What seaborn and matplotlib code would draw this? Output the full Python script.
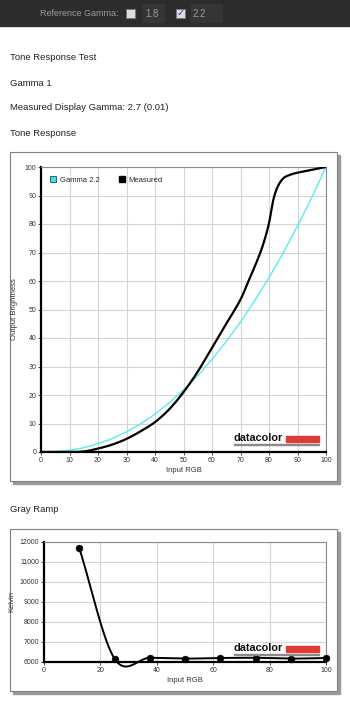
import numpy as np
import matplotlib
matplotlib.use("Agg")
import matplotlib.pyplot as plt
from matplotlib.patches import Rectangle
from matplotlib.lines import Line2D
import seaborn as sns

# --- data ---
tone_x = [0, 5, 10, 15, 20, 25, 30, 35, 40, 45, 50, 55, 60, 65, 70, 75, 80, 85, 90, 95, 100]
gamma22_y = [0, 0.14, 0.63, 1.5, 2.9, 4.7, 7.1, 9.9, 13.3, 17.3, 21.8, 26.8, 32.5, 38.8,
             45.6, 53.1, 61.2, 69.9, 79.3, 89.3, 100]
meas_x = [0, 5, 10, 15, 20, 25, 30, 35, 40, 45, 50, 55, 60, 65, 70, 73.5, 76, 78,
          80, 81.5, 83, 85, 87.5, 90, 95, 100]
meas_y = [0, 0, 0, 0.2, 1.2, 2.6, 4.6, 7.3, 10.5, 15, 21, 28.2, 36.6, 45, 53.5, 61.6, 67.5,
          73, 80.3, 88.4, 93, 96, 97.3, 98, 99, 100]

ramp_x = [12.5, 25, 37.5, 50, 62.5, 75, 87.5, 100]
ramp_kelvin = [11700, 6170, 6210, 6170, 6200, 6210, 6170, 6200]

W, H = 350, 703


def fx(x):
    return x / W


def fy(y):
    return 1 - y / H


def catmull(xs, ys, n=30):
    # smooth path through the measured points (drawing only)
    xs, ys = np.asarray(xs, float), np.asarray(ys, float)
    m = np.zeros_like(ys)
    m[1:-1] = (ys[2:] - ys[:-2]) / (xs[2:] - xs[:-2])
    m[0] = (ys[1] - ys[0]) / (xs[1] - xs[0])
    m[-1] = (ys[-1] - ys[-2]) / (xs[-1] - xs[-2])
    px, py = [], []
    for i in range(len(xs) - 1):
        h = xs[i + 1] - xs[i]
        t = np.linspace(0, 1, n)
        h00 = 2 * t**3 - 3 * t**2 + 1
        h10 = t**3 - 2 * t**2 + t
        h01 = -2 * t**3 + 3 * t**2
        h11 = t**3 - t**2
        px.extend(xs[i] + t * h)
        py.extend(h00 * ys[i] + h10 * h * m[i] + h01 * ys[i + 1] + h11 * h * m[i + 1])
    return np.array(px), np.array(py)


sns.set_theme(style="white")
plt.rcParams["font.family"] = ["Liberation Sans", "DejaVu Sans"]

fig = plt.figure(figsize=(3.5, 7.03), dpi=100, facecolor="white")

# top toolbar
fig.patches.append(Rectangle((0, fy(26)), 1, 26 / H, transform=fig.transFigure,
                             color="#2c2c2c", zorder=-5))
fig.patches.append(Rectangle((fx(142), fy(22)), 22 / W, 18 / H, transform=fig.transFigure,
                             color="#353535", zorder=-4))
fig.patches.append(Rectangle((fx(191), fy(22)), 31 / W, 18 / H, transform=fig.transFigure,
                             color="#353535", zorder=-4))
fig.text(fx(40), fy(13), "Reference Gamma:", fontsize=6.5, color="#9a9a9a", va="center")
for cx in (126, 176):
    fig.patches.append(Rectangle((fx(cx), fy(18)), 9 / W, 9 / H, transform=fig.transFigure,
                                 facecolor="#dcdcdc", edgecolor="#777777", lw=0.6, zorder=-3))
fig.text(fx(177), fy(13), "\u2713", fontsize=7, color="#2a3fb8", va="center",
         family="DejaVu Sans", weight="bold")
fig.text(fx(145), fy(14), "1.8", fontsize=7, color="#9a9a9a", va="center")
fig.text(fx(193), fy(14), "2.2", fontsize=7, color="#9a9a9a", va="center")

# section texts
for y, s in [(57, "Tone Response Test"), (83, "Gamma 1"),
             (108, "Measured Display Gamma: 2.7 (0.01)"), (133, "Tone Response"),
             (509, "Gray Ramp")]:
    fig.text(fx(10), fy(y), s, fontsize=6.8, color="#222222", va="center")

# chart frames with shadow
for top, bot in [(152, 481), (529, 691)]:
    fig.patches.append(Rectangle((fx(13), fy(bot + 3)), 327 / W, (bot - top) / H,
                                 transform=fig.transFigure, color="#9a9a9a", zorder=-2))
    fig.patches.append(Rectangle((fx(10), fy(bot)), 327 / W, (bot - top) / H,
                                 transform=fig.transFigure, facecolor="white",
                                 edgecolor="#808080", lw=0.8, zorder=-1))


def style_axes(ax):
    ax.set_facecolor("white")
    ax.set_zorder(1)
    ax.grid(True, color="#d4d4d4", lw=0.8)
    for s in ("top", "right"):
        ax.spines[s].set_color("#8a8a8a")
        ax.spines[s].set_linewidth(0.8)
    for s in ("left", "bottom"):
        ax.spines[s].set_color("black")
        ax.spines[s].set_linewidth(1.6)
    ax.tick_params(axis="both", which="both", labelsize=5, colors="#333333",
                   length=2, width=0.6, direction="out", pad=1.5,
                   left=True, bottom=True)


def logo(ytop):
    fig.text(fx(234), fy(ytop + 5), "datacolor", fontsize=7.8, weight="bold",
             color="#111111", va="center", family="Liberation Sans", zorder=6)
    fig.patches.append(Rectangle((fx(286), fy(ytop + 9)), 33 / W, 6 / H,
                                 transform=fig.transFigure, color="#e23b36", zorder=5))
    fig.patches.append(Rectangle((fx(234), fy(ytop + 12)), 85 / W, 1.5 / H,
                                 transform=fig.transFigure, color="#8a8a8a", zorder=5))


# --- tone response ---
ax1 = fig.add_axes([fx(41), fy(452), 285 / W, 285 / H])
style_axes(ax1)
sns.lineplot(x=tone_x, y=gamma22_y, ax=ax1, color="#55eef0", lw=1.0, zorder=3)
mx, my = catmull(meas_x, meas_y)
sns.lineplot(x=mx, y=my, ax=ax1, color="black", lw=1.6, sort=False, zorder=4)
ax1.set_xlim(0, 100)
ax1.set_ylim(0, 100)
ax1.set_xticks(range(0, 101, 10))
ax1.set_yticks(range(0, 101, 10))
ax1.set_xlabel("Input RGB", fontsize=5.5, color="#333333", labelpad=2)
ax1.set_ylabel("Output Brightness", fontsize=5.5, color="#333333")
ax1.yaxis.set_label_coords(-0.081, 0.5)
handles = [Line2D([], [], marker="s", ls="", markersize=4, markerfacecolor="#33e6ee",
                  markeredgecolor="#222222", markeredgewidth=0.5),
           Line2D([], [], marker="s", ls="", markersize=4, markerfacecolor="black",
                  markeredgecolor="black")]
ax1.legend(handles, ["Gamma 2.2", "Measured"], loc="upper left", ncol=2, frameon=False,
           fontsize=5.5, handletextpad=0.4, columnspacing=2.4, handlelength=1.0,
           bbox_to_anchor=(0.01, 0.985), borderaxespad=0.3)
logo(433)

# --- gray ramp ---
ax2 = fig.add_axes([fx(44), fy(662), 282 / W, 120 / H])
style_axes(ax2)
sx, sy = catmull(ramp_x, ramp_kelvin, n=40)
sns.lineplot(x=sx, y=sy, ax=ax2, color="black", lw=1.4, sort=False, zorder=4)
sns.scatterplot(x=ramp_x, y=ramp_kelvin, ax=ax2, color="black", s=24, zorder=5,
                edgecolor="black", clip_on=False)
for ln in ax2.lines:
    ln.set_clip_on(False)
ax2.set_xlim(0, 100)
ax2.set_ylim(6000, 12000)
ax2.set_xticks(range(0, 101, 20))
ax2.set_yticks(range(6000, 12001, 1000))
ax2.set_xlabel("Input RGB", fontsize=5.5, color="#333333", labelpad=2)
ax2.set_ylabel("Kelvin", fontsize=5.5, color="#333333")
ax2.yaxis.set_label_coords(-0.103, 0.5)
logo(643)

fig.savefig("out.png", dpi=100, facecolor="white")
